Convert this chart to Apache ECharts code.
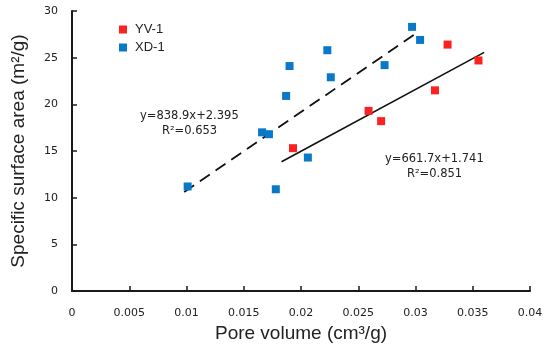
<!DOCTYPE html>
<html>
<head>
<meta charset="utf-8">
<script src="https://cdn.jsdelivr.net/npm/echarts@6/dist/echarts.min.js"></script>
<style>html,body{margin:0;padding:0;background:#fff;}#c{width:550px;height:357px;}</style>
</head>
<body>
<div id="c"></div>
<script>
// Data
const yvPoreVolume = [0.0328, 0.0355, 0.0317, 0.0259, 0.0270, 0.0193];
const yvSurfaceArea = [26.4, 24.7, 21.5, 19.3, 18.2, 15.3];
const xdPoreVolume = [0.0297, 0.0304, 0.0223, 0.0190, 0.0273, 0.0226, 0.0187, 0.0166, 0.0172, 0.0206, 0.0178, 0.0101];
const xdSurfaceArea = [28.3, 26.9, 25.8, 24.1, 24.2, 22.9, 20.9, 17.0, 16.8, 14.3, 10.9, 11.2];
// Linear fits (slope, intercept) and their drawn x ranges
const xdFit = [838.9, 2.395];
const xdFitRange = [0.0098, 0.0302];
const yvFit = [661.7, 1.741];
const yvFitRange = [0.0183, 0.0360];
const xTicks = [0, 0.005, 0.01, 0.015, 0.02, 0.025, 0.03, 0.035, 0.04];
const yTicks = [0, 5, 10, 15, 20, 25, 30];

const zip = (xs, ys) => xs.map((x, i) => [x, ys[i]]);
const fitLine = (fit, range) => range.map(x => [x, fit[0] * x + fit[1]]);

const chart = echarts.init(document.getElementById('c'));
chart.setOption({
  animation: false,
  backgroundColor: '#fff',
  grid: { left: 72, right: 20, top: 11, bottom: 66 },
  legend: {
    orient: 'vertical', left: 114, top: 18,
    icon: 'rect', itemWidth: 8, itemHeight: 8, itemGap: 5,
    data: ['YV-1', 'XD-1'],
    textStyle: { fontFamily: 'Liberation Sans', fontSize: 13, color: '#222', lineHeight: 13, padding: [0, 0, 0, 3] }
  },
  xAxis: {
    type: 'value', min: xTicks[0], max: xTicks[xTicks.length - 1], interval: 0.005,
    name: 'Pore volume (cm³/g)', nameLocation: 'middle', nameGap: 25,
    nameTextStyle: { fontFamily: 'Liberation Sans', fontSize: 19, color: '#222' },
    axisLine: { lineStyle: { color: '#1a1a1a', width: 2 } },
    axisTick: { inside: true, length: 5, lineStyle: { color: '#1a1a1a', width: 1.5 } },
    axisLabel: { margin: 17, fontFamily: 'DejaVu Sans', fontSize: 11, color: '#222',
      formatter: v => String(parseFloat(v.toFixed(3))) },
    splitLine: { show: false }
  },
  yAxis: {
    type: 'value', min: yTicks[0], max: yTicks[yTicks.length - 1], interval: 5,
    name: 'Specific surface area (m²/g)', nameLocation: 'middle', nameGap: 44,
    nameTextStyle: { fontFamily: 'Liberation Sans', fontSize: 19, color: '#222' },
    axisLine: { lineStyle: { color: '#1a1a1a', width: 2 } },
    axisTick: { inside: true, length: 5, lineStyle: { color: '#1a1a1a', width: 1.5 } },
    axisLabel: { margin: 14, fontFamily: 'DejaVu Sans', fontSize: 11, color: '#222' },
    splitLine: { show: false }
  },
  graphic: [
    { type: 'text', left: 140, top: 109, style: { text: 'y=838.9x+2.395\n      R²=0.653', font: '11.5px "DejaVu Sans"', fill: '#222', lineHeight: 15 } },
    { type: 'text', left: 385, top: 152, style: { text: 'y=661.7x+1.741\n      R²=0.851', font: '11.5px "DejaVu Sans"', fill: '#222', lineHeight: 15 } }
  ],
  series: [
    { name: 'XD-1 fit', type: 'line', data: fitLine(xdFit, xdFitRange), showSymbol: false, silent: true,
      lineStyle: { color: '#111', width: 1.8, type: [12, 7] }, z: 1 },
    { name: 'YV-1 fit', type: 'line', data: fitLine(yvFit, yvFitRange), showSymbol: false, silent: true,
      lineStyle: { color: '#111', width: 1.6 }, z: 1 },
    { name: 'YV-1', type: 'scatter', data: zip(yvPoreVolume, yvSurfaceArea), symbol: 'rect', symbolSize: 8,
      itemStyle: { color: '#fc2121', opacity: 1 }, z: 3 },
    { name: 'XD-1', type: 'scatter', data: zip(xdPoreVolume, xdSurfaceArea), symbol: 'rect', symbolSize: 8,
      itemStyle: { color: '#0a78c8', opacity: 1 }, z: 3 }
  ]
});
</script>
</body>
</html>
